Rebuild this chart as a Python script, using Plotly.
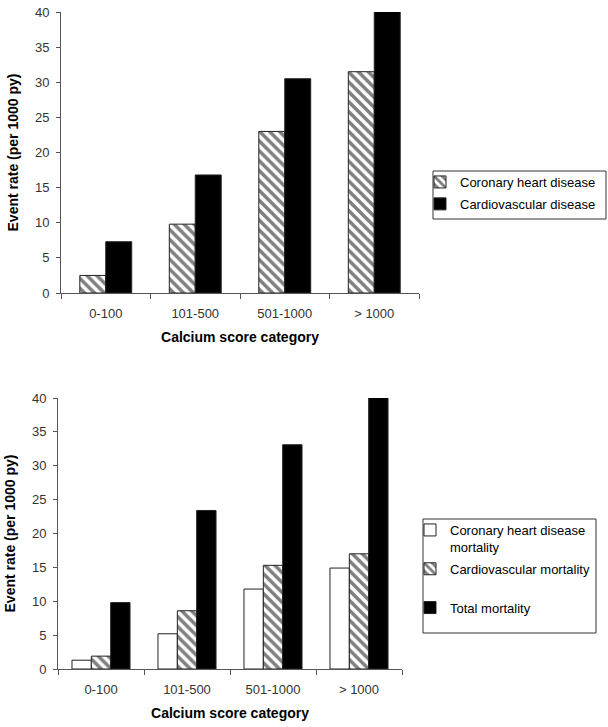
import plotly.graph_objects as go

categories = ["0-100", "101-500", "501-1000", "> 1000"]

# Top panel
chd_events = [2.5, 9.8, 23.0, 31.5]
cvd_events = [7.3, 16.8, 30.5, 40.3]

# Bottom panel
chd_mort = [1.3, 5.2, 11.8, 14.9]
cvd_mort = [1.9, 8.6, 15.3, 17.0]
total_mort = [9.8, 23.4, 33.1, 40.3]

y_ticks = [0, 5, 10, 15, 20, 25, 30, 35, 40]

W, H = 608, 727
FONT = "Liberation Sans, Arial, sans-serif"


def px_x(a, b):
    return [a / W, b / W]


def px_y(top, bottom):
    return [(H - bottom) / H, (H - top) / H]


hatch = dict(shape="\\", fgcolor="black", bgcolor="white", size=7, solidity=0.5)
line = dict(color="#222", width=1)

w_top = 0.29
w_bot = 0.225

fig = go.Figure()
fig.add_trace(go.Bar(x=categories, y=chd_events, name="Coronary heart disease",
                     width=w_top, offset=-w_top, legendgroup="a",
                     marker=dict(color="white", pattern=hatch, line=line),
                     xaxis="x", yaxis="y", legend="legend"))
fig.add_trace(go.Bar(x=categories, y=cvd_events, name="Cardiovascular disease",
                     width=w_top, offset=0, legendgroup="b",
                     marker=dict(color="black", line=line),
                     xaxis="x", yaxis="y", legend="legend"))

fig.add_trace(go.Bar(x=categories, y=chd_mort, name="Coronary heart disease<br>mortality",
                     width=w_bot, offset=-1.5 * w_bot, legendgroup="c",
                     marker=dict(color="white", line=line),
                     xaxis="x2", yaxis="y2", legend="legend2"))
fig.add_trace(go.Bar(x=categories, y=cvd_mort, name="Cardiovascular mortality<br> ",
                     width=w_bot, offset=-0.5 * w_bot, legendgroup="d",
                     marker=dict(color="white", pattern=hatch, line=line),
                     xaxis="x2", yaxis="y2", legend="legend2"))
fig.add_trace(go.Bar(x=categories, y=total_mort, name="Total mortality",
                     width=w_bot, offset=0.5 * w_bot, legendgroup="e",
                     marker=dict(color="black", line=line),
                     xaxis="x2", yaxis="y2", legend="legend2"))

tickfont = dict(family=FONT, size=13, color="#333")
titlefont = dict(family=FONT, size=14, color="black", weight="bold")


def xaxis(domain, anchor):
    return dict(domain=domain, anchor=anchor, automargin=False,
                showline=True, linecolor="#555", linewidth=1,
                ticks="outside", ticklen=5, tickcolor="#555", tickson="boundaries",
                ticklabelstandoff=8,
                tickfont=tickfont, showgrid=False, zeroline=False,
                title=dict(text="Calcium score category", font=titlefont, standoff=12))


def yaxis(domain, anchor):
    return dict(domain=domain, anchor=anchor, automargin=False,
                range=[0, 40], tickvals=y_ticks,
                showline=True, linecolor="#555", linewidth=1,
                ticks="outside", ticklen=4, tickcolor="#555",
                ticklabelstandoff=4,
                tickfont=tickfont, showgrid=False, zeroline=False,
                title=dict(text="Event rate (per 1000 py)", font=titlefont, standoff=13))


legend_font = dict(family=FONT, size=13, color="black")

fig.update_layout(
    width=W, height=H,
    margin=dict(l=0, r=0, t=0, b=0, autoexpand=False),
    paper_bgcolor="white", plot_bgcolor="white",
    font=dict(family=FONT, size=12, color="black"),
    barmode="overlay",
    hovermode=False,
    xaxis=xaxis(px_x(61, 419), "y"),
    yaxis=yaxis(px_y(12, 293), "x"),
    xaxis2=xaxis(px_x(58, 402), "y2"),
    yaxis2=yaxis(px_y(398, 669), "x2"),
    legend=dict(x=420 / W, y=(H - 167) / H, xanchor="left", yanchor="top",
                borderwidth=0, bgcolor="rgba(0,0,0,0)", font=legend_font,
                itemwidth=30, valign="top", tracegroupgap=2),
    legend2=dict(x=410 / W, y=(H - 515) / H, xanchor="left", yanchor="top",
                 borderwidth=0, bgcolor="rgba(0,0,0,0)", font=legend_font,
                 itemwidth=30, valign="top", tracegroupgap=2),
    shapes=[
        dict(type="rect", xref="paper", yref="paper",
             x0=433 / W, x1=606 / W, y0=(H - 219) / H, y1=(H - 171) / H,
             line=dict(color="#333", width=1), fillcolor="rgba(0,0,0,0)", layer="below"),
        dict(type="rect", xref="paper", yref="paper",
             x0=423 / W, x1=596 / W, y0=(H - 633) / H, y1=(H - 519) / H,
             line=dict(color="#333", width=1), fillcolor="rgba(0,0,0,0)", layer="below"),
    ],
    showlegend=True,
)

fig.write_html("out.html",
               config={"displayModeBar": False},
               post_script="document.body.style.margin='0';document.body.style.overflow='hidden';")
